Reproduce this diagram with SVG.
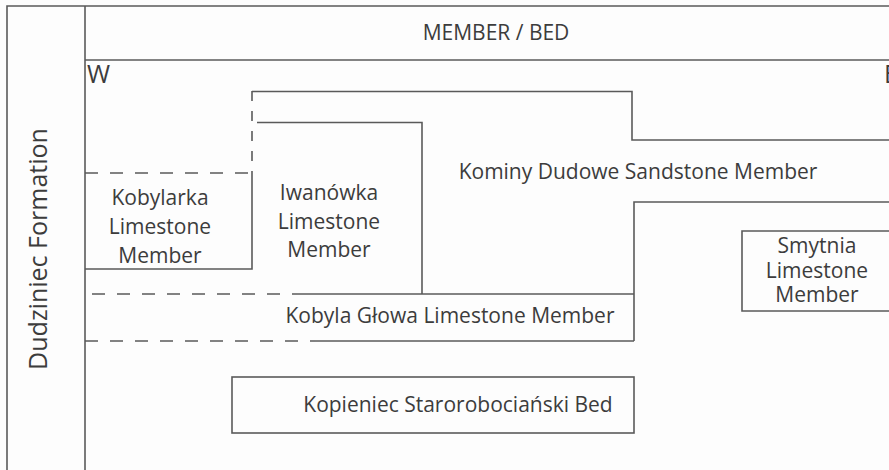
<svg xmlns="http://www.w3.org/2000/svg" width="889" height="470" viewBox="0 0 889 470">
<style>
.ln{fill:none;stroke:#5a5a5a;stroke-width:1.6}
.dh{fill:none;stroke:#5a5a5a;stroke-width:1.6;stroke-dasharray:13 12}
.dv{fill:none;stroke:#5a5a5a;stroke-width:1.6;stroke-dasharray:10 10}
text{font-family:"Open Sans","Liberation Sans",sans-serif;font-size:21px;fill:#3c3c3c;text-anchor:middle}
.big{font-size:25px;text-anchor:start}
.side{font-size:25px}
</style>
<rect width="889" height="470" fill="#fdfdfd"/>
<g id="frame">
<path class="ln" d="M7,470 V6 H889"/>
<path class="ln" d="M85,6 V470"/>
<path class="ln" d="M85,60 H889"/>
<text x="496" y="40">MEMBER / BED</text>
<text class="big" x="87" y="83">W</text>
<text class="big" x="884" y="83">E</text>
<text class="side" x="0" y="0" transform="translate(47,249) rotate(-90)">Dudziniec Formation</text>
</g>
<g id="connectors">
<path class="dv" d="M252,91 V173"/>
<path class="ln" d="M252,91.5 H632 V140 H889"/>
<path class="ln" d="M257,122.5 H422 V294"/>
<path class="ln" d="M634,341 V202 H889"/>
</g>
<g id="kobylarka">
<path class="dh" d="M85,173 H252"/>
<path class="ln" d="M252,173 V269 H85"/>
<text x="160" y="205">Kobylarka</text>
<text x="160" y="234">Limestone</text>
<text x="160" y="263">Member</text>
</g>
<g id="iwanowka">
<text x="329" y="200">Iwanówka</text>
<text x="329" y="229">Limestone</text>
<text x="329" y="257">Member</text>
</g>
<g id="kominy">
<text x="638" y="179">Kominy Dudowe Sandstone Member</text>
</g>
<g id="kobyla">
<path class="dh" d="M92,294 H297"/>
<path class="ln" d="M297,294 H634"/>
<path class="dh" d="M85,341 H315"/>
<path class="ln" d="M315,341 H634"/>
<text x="450" y="323">Kobyla Głowa Limestone Member</text>
</g>
<g id="smytnia">
<path class="ln" d="M889,231 H742 V311 H889"/>
<text x="817" y="253">Smytnia</text>
<text x="817" y="278">Limestone</text>
<text x="817" y="302">Member</text>
</g>
<g id="kopieniec">
<rect class="ln" x="232" y="377" width="402" height="56"/>
<text x="458" y="412">Kopieniec Starorobociański Bed</text>
</g>
</svg>
